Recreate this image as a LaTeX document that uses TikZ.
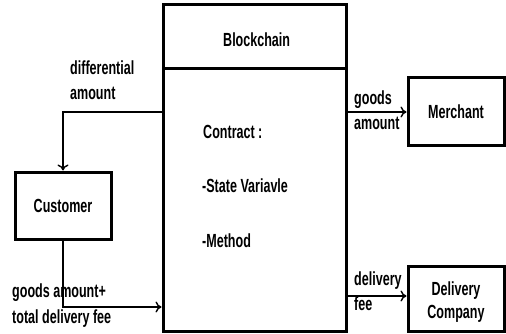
\documentclass[tikz,border=0pt]{standalone}
\usepackage{fontspec}
\setmainfont{Liberation Sans}[FakeStretch=0.66]
\usetikzlibrary{arrows.meta}
\begin{document}
\begin{tikzpicture}[x=1pt,y=-1pt,
  txt/.style={font=\fontsize{19}{23}\bfseries\selectfont, inner sep=0pt},
  box/.style={draw, line width=3pt, inner sep=0pt, align=center,
    font=\fontsize{19}{23}\bfseries\selectfont},
  lbl/.style={txt, anchor=base west},
  arr/.style={line width=1.6pt, -{To[length=6pt,width=11pt,line width=1.4pt]}}]
\useasboundingbox (0,0) rectangle (506,334);

% blockchain: heading strip and contract body
\node[box, minimum width=183pt, minimum height=64pt] (head) at (254.5,37) {};
\node[box, minimum width=183pt, minimum height=262pt] (body) at (254.5,200) {};
\node[lbl] (title) at (223,47) {Blockchain};
\node[lbl] (contract) at (203,139) {Contract :};
\node[lbl] (state) at (202,193) {-State Variavle};
\node[lbl] (method) at (202,247) {-Method};

% participants
\node[box, minimum width=96pt, minimum height=68pt] (merchant) at (456,112) {Merchant};
\node[box, minimum width=96pt, minimum height=65pt] (delivery) at (456,298.5) {};
\node[txt, align=center] (dtext) at (456,302) {Delivery\\Company};
\node[box, minimum width=96pt, minimum height=67pt] (customer) at (63,205.5) {Customer};

% flows of money
\coordinate (payLvl) at (0,307);
\draw[arr] (body.west |- merchant) -| (customer);
\draw[arr] (body.east |- merchant) -- (merchant.west);
\draw[arr] (body.east |- 0,296) -- (delivery.west |- 0,296);
\draw[arr] (customer.south) |- (body.west |- payLvl);

% flow labels
\node[lbl] (l1a) at (70,75) {differential};
\node[lbl] (l1b) at (70,100) {amount};
\node[lbl] (l2a) at (354,105) {goods};
\node[lbl] (l2b) at (354,130) {amount};
\node[lbl] (l3a) at (354,285) {delivery};
\node[lbl] (l3b) at (354,310) {fee};
\node[lbl] (l4a) at (12,297) {goods amount+};
\node[lbl] (l4b) at (12,323) {total delivery fee};
\end{tikzpicture}
\end{document}
